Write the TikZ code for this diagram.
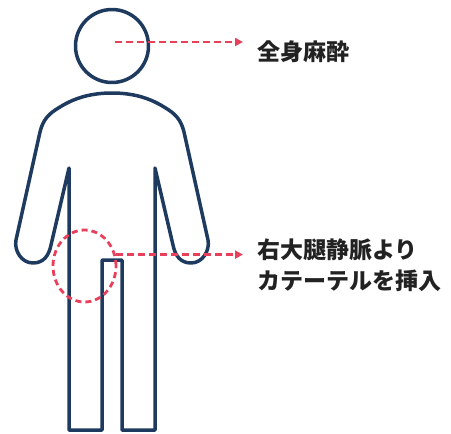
\documentclass[tikz,border=0pt]{standalone}
\usepackage{fontspec}
\usepackage{xcolor}
\usepackage{tikz}
\usetikzlibrary{arrows.meta,shapes.geometric}
\newfontfamily\jpfont{Noto Sans CJK JP}
\definecolor{navy}{RGB}{30,58,95}
\definecolor{pinkred}{RGB}{232,64,90}
\definecolor{inkgray}{RGB}{34,34,34}

\begin{document}
\begin{tikzpicture}[x=1pt,y=-1pt,
  outline/.style={draw=navy,line width=3.5pt,line join=round},
  redarrow/.style={draw=pinkred,line width=2.8pt,dash pattern=on 7pt off 4pt,
    -{Triangle[length=8pt,width=8pt]},shorten >=14pt},
  caption/.style={inner sep=0pt,text=inkgray,align=left,
    font=\jpfont\bfseries\fontsize{23}{31}\selectfont}]
\useasboundingbox (0,0) rectangle (451,434);
% head
\node[outline,circle,inner sep=0pt,minimum size=73pt] (head) at (112,46) {};
% body, arms and legs in one stroke
\draw[outline] (69,430) -- (69,168) -- (51,245)
  .. controls (49,255) and (44,263) .. (33,263)
  .. controls (21,263) and (14,250) .. (16,240) -- (40,132)
  .. controls (43,120) and (48,114) .. (60,107)
  .. controls (76,97) and (93,93) .. (112,93)
  .. controls (131,93) and (148,97) .. (164,107)
  .. controls (176,114) and (181,120) .. (184,132) -- (208,240)
  .. controls (210,250) and (203,263) .. (191,263)
  .. controls (180,263) and (175,255) .. (173,245) -- (155,168)
  -- (155,430) -- (122,430) -- (122,260) -- (102,260) -- (102,430) -- cycle;
% dashed ring on the right groin
\node[draw=pinkred,line width=2.8pt,dash pattern=on 6pt off 4pt,ellipse,
  inner sep=0pt,minimum width=63pt,minimum height=72pt] (groin) at (84.5,266) {};
\coordinate (headmark) at (115,42);
% labels
\node[caption,anchor=west] (anesth) at (257,52) {全身麻酔};
\node[caption,anchor=west] (cath) at (257,265) {右大腿静脈より\\カテーテルを挿入};
% arrows
\draw[redarrow] (headmark) -- (headmark -| anesth.west);
\draw[redarrow] (groin.20) -- (groin.20 -| cath.west);
\end{tikzpicture}
\end{document}
